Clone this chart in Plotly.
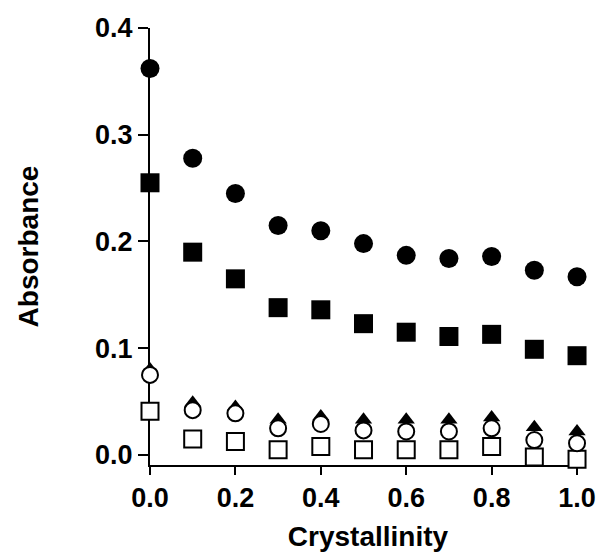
import plotly.graph_objects as go

crystallinity = [0.0, 0.1, 0.2, 0.3, 0.4, 0.5, 0.6, 0.7, 0.8, 0.9, 1.0]
filled_circles = [0.362, 0.278, 0.245, 0.215, 0.210, 0.198, 0.187, 0.184, 0.186, 0.173, 0.167]
filled_squares = [0.255, 0.190, 0.165, 0.138, 0.136, 0.123, 0.115, 0.111, 0.113, 0.099, 0.093]
filled_triangles = [0.080, 0.049, 0.045, 0.033, 0.036, 0.033, 0.033, 0.033, 0.035, 0.026, 0.022]
open_circles = [0.075, 0.042, 0.039, 0.025, 0.029, 0.023, 0.022, 0.022, 0.025, 0.014, 0.011]
open_squares = [0.041, 0.015, 0.0125, 0.005, 0.008, 0.005, 0.005, 0.005, 0.008, -0.002, -0.004]

x_ticks = [0.0, 0.2, 0.4, 0.6, 0.8, 1.0]
x_ticktext = ["0.0", "0.2", "0.4", "0.6", "0.8", "1.0"]
y_ticks = [0.0, 0.1, 0.2, 0.3, 0.4]
y_ticktext = ["0.0", "0.1", "0.2", "0.3", "0.4"]

FONT = "Liberation Sans, Arial, sans-serif"

fig = go.Figure()

def add(y, symbol, size, fill, line_w):
    fig.add_trace(go.Scatter(
        x=crystallinity, y=y, mode="markers", cliponaxis=False,
        marker=dict(symbol=symbol, size=size, color=fill,
                    line=dict(color="black", width=line_w)),
        showlegend=False, hoverinfo="x+y"))

add(filled_triangles, "triangle-up", 15, "black", 0)
add(open_squares, "square", 17, "white", 2)
add(open_circles, "circle", 16, "white", 2)
add(filled_squares, "square", 19, "black", 0)
add(filled_circles, "circle", 19, "black", 0)

fig.update_layout(
    width=608, height=559,
    margin=dict(l=150, r=13, t=28, b=94),
    paper_bgcolor="white", plot_bgcolor="white",
    font=dict(family=FONT, color="black"),
)

fig.update_xaxes(
    range=[0, 1.021], showgrid=False, zeroline=False,
    showline=True, linecolor="black", linewidth=2, layer="below traces",
    ticks="outside", ticklen=8, tickwidth=2, tickcolor="black",
    tickvals=x_ticks, ticktext=x_ticktext,
    tickfont=dict(family=FONT, size=27, color="black", weight="bold"),
    title=dict(text="<b>Crystallinity</b>", font=dict(family=FONT, size=28, color="black"), standoff=14),
)
fig.update_yaxes(
    range=[-0.0094, 0.4], showgrid=False, zeroline=False,
    showline=True, linecolor="black", linewidth=2, layer="below traces",
    ticks="outside", ticklen=10, tickwidth=2, tickcolor="black",
    tickvals=y_ticks, ticktext=y_ticktext,
    tickfont=dict(family=FONT, size=27, color="black", weight="bold"),
    title=dict(text="<b>Absorbance</b>", font=dict(family=FONT, size=28, color="black"), standoff=48),
)

fig.write_html("out.html")
